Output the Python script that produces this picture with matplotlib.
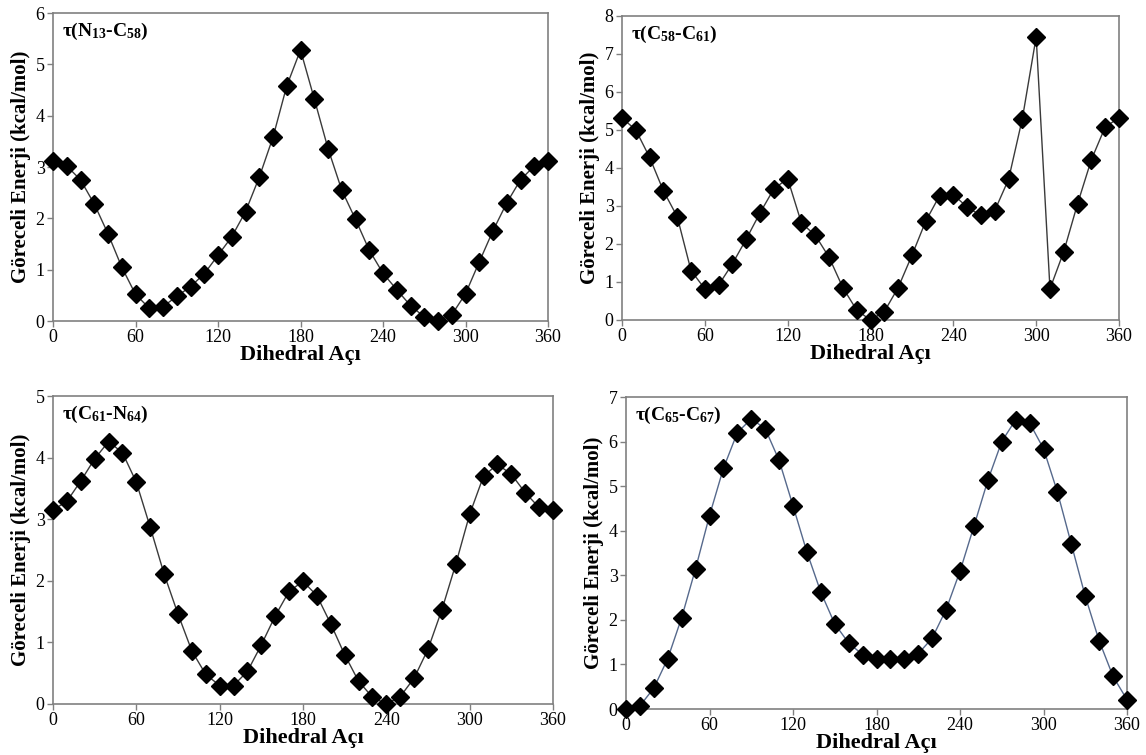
import numpy as np
import matplotlib
matplotlib.use('Agg')
import matplotlib.pyplot as plt

plt.rcParams['font.family'] = ['Liberation Serif', 'DejaVu Serif']
plt.rcParams['mathtext.fontset'] = 'custom'
plt.rcParams['mathtext.rm'] = 'Liberation Serif:bold'
plt.rcParams['mathtext.it'] = 'Liberation Serif:bold'
plt.rcParams['mathtext.bf'] = 'Liberation Serif:bold'

# --- dihedral scan data --- #
angles = list(range(0, 361, 10))

energy_N13_C58 = [3.12, 3.02, 2.75, 2.28, 1.70, 1.05, 0.52, 0.25, 0.28, 0.48,
                  0.67, 0.92, 1.28, 1.64, 2.13, 2.80, 3.58, 4.58, 5.28, 4.33,
                  3.36, 2.55, 1.98, 1.38, 0.93, 0.61, 0.30, 0.08, 0.00, 0.12,
                  0.53, 1.15, 1.76, 2.30, 2.75, 3.02, 3.12]

energy_C58_C61 = [5.32, 5.00, 4.28, 3.40, 2.72, 1.30, 0.82, 0.92, 1.48, 2.13,
                  2.82, 3.45, 3.72, 2.55, 2.23, 1.65, 0.85, 0.26, 0.00, 0.22,
                  0.85, 1.70, 2.60, 3.27, 3.30, 2.97, 2.75, 2.88, 3.70, 5.30,
                  7.45, 0.82, 1.80, 3.06, 4.22, 5.08, 5.32]

energy_C61_N64 = [3.15, 3.29, 3.62, 3.98, 4.26, 4.08, 3.60, 2.87, 2.11, 1.46,
                  0.86, 0.48, 0.30, 0.30, 0.53, 0.96, 1.43, 1.83, 1.99, 1.76,
                  1.30, 0.80, 0.37, 0.11, 0.00, 0.12, 0.42, 0.89, 1.53, 2.27,
                  3.08, 3.70, 3.89, 3.73, 3.43, 3.19, 3.15]

energy_C65_C67 = [0.00, 0.07, 0.47, 1.13, 2.05, 3.15, 4.34, 5.40, 6.20, 6.51,
                  6.29, 5.58, 4.56, 3.52, 2.62, 1.91, 1.48, 1.22, 1.12, 1.12,
                  1.12, 1.24, 1.59, 2.23, 3.09, 4.10, 5.13, 6.00, 6.49, 6.42,
                  5.84, 4.87, 3.70, 2.53, 1.53, 0.73, 0.21]

titles = [r'τ(N$_{13}$-C$_{58}$)', r'τ(C$_{58}$-C$_{61}$)',
          r'τ(C$_{61}$-N$_{64}$)', r'τ(C$_{65}$-C$_{67}$)']
series = [energy_N13_C58, energy_C58_C61, energy_C61_N64, energy_C65_C67]
y_tops = [6, 8, 5, 7]
line_colors = ['#3a3a3a', '#3a3a3a', '#3a3a3a', '#56698c']

W, H = 1146, 755
# axes boxes in pixels: left, right, top, bottom
boxes = [(53, 548, 13, 321), (622, 1119, 16, 320),
         (53, 553, 396, 704), (626, 1127, 397, 709)]

fig = plt.figure(figsize=(W / 100, H / 100), dpi=100)

for i in range(4):
    l, r, t, b = boxes[i]
    ax = fig.add_axes([l / W, 1 - b / H, (r - l) / W, (b - t) / H])
    ax.plot(angles, series[i], color=line_colors[i], linewidth=1.0,
            marker='D', markersize=9.5, markerfacecolor='black',
            markeredgecolor='black', clip_on=False, zorder=3)
    ax.set_xlim(0, 360)
    ax.set_ylim(0, y_tops[i])
    ax.set_xticks(range(0, 361, 60))
    ax.set_yticks(range(0, y_tops[i] + 1))
    for side in ['top', 'right', 'left', 'bottom']:
        ax.spines[side].set_color('#808080')
        ax.spines[side].set_linewidth(1.2)
    ax.tick_params(direction='out', length=4, width=1, color='#808080',
                   labelsize=13, pad=2, top=False, right=False)
    ax.set_xlabel('Dihedral Açı', fontsize=16, fontweight='bold', labelpad=-1)
    ax.set_ylabel('Göreceli Enerji (kcal/mol)', fontsize=15, fontweight='bold', labelpad=3)
    ax.text(0.018, 0.94, titles[i], transform=ax.transAxes, fontsize=14,
            fontweight='bold', va='center', ha='left')

fig.savefig('out.png', dpi=100)
plt.close(fig)
